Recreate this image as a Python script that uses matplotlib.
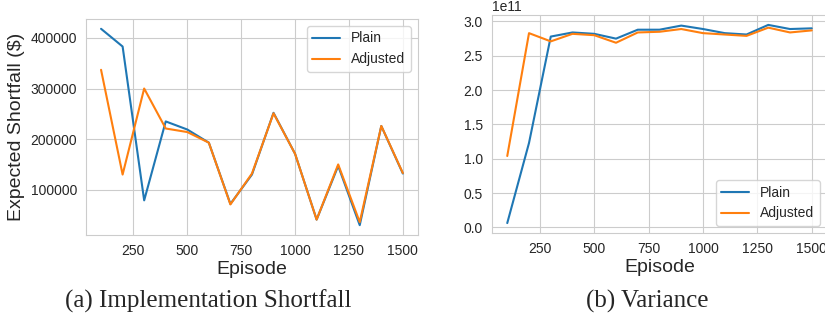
import matplotlib
matplotlib.use('Agg')
import matplotlib.pyplot as plt
import seaborn as sns

# Episodes and the two metrics for each strategy.
episodes = [100, 200, 300, 400, 500, 600, 700, 800, 900, 1000, 1100, 1200, 1300, 1400, 1500]

shortfall_plain = [418000, 383000, 79000, 235000, 219000, 193000, 72000, 130000,
                   252000, 171000, 41000, 147000, 30000, 226000, 132000]
shortfall_adjusted = [337000, 130000, 300000, 221000, 214000, 193000, 71000, 132000,
                      251000, 171000, 41000, 150000, 36000, 226000, 133000]

variance_plain = [0.063e11, 1.23e11, 2.78e11, 2.84e11, 2.82e11, 2.75e11, 2.88e11, 2.88e11,
                  2.94e11, 2.89e11, 2.83e11, 2.81e11, 2.95e11, 2.89e11, 2.90e11]
variance_adjusted = [1.04e11, 2.83e11, 2.71e11, 2.82e11, 2.80e11, 2.69e11, 2.84e11, 2.85e11,
                     2.89e11, 2.83e11, 2.81e11, 2.79e11, 2.91e11, 2.84e11, 2.87e11]

sns.set_style('whitegrid')
plt.rcParams['font.family'] = ['Liberation Sans', 'DejaVu Sans']

fig = plt.figure(figsize=(8.25, 3.17), dpi=100)
ax1 = fig.add_axes([0.1042, 0.2587, 0.4024, 0.6814])
ax2 = fig.add_axes([0.5964, 0.265, 0.406, 0.6877])

# (a) Implementation shortfall
ax1.plot(episodes, shortfall_plain, color='tab:blue', linewidth=1.5, label='Plain')
ax1.plot(episodes, shortfall_adjusted, color='tab:orange', linewidth=1.5, label='Adjusted')
ax1.set_ylabel('Expected Shortfall ($)', fontsize=14, color='.15')
ax1.set_xlabel('Episode', fontsize=14, color='.15', labelpad=2)
ax1.legend(loc='upper right', fontsize=10)

# (b) Variance
ax2.plot(episodes, variance_plain, color='tab:blue', linewidth=1.5, label='Plain')
ax2.plot(episodes, variance_adjusted, color='tab:orange', linewidth=1.5, label='Adjusted')
ax2.set_xlabel('Episode', fontsize=14, color='.15', labelpad=2)
ax2.legend(loc='lower right', fontsize=10)

for ax in (ax1, ax2):
    ax.tick_params(labelsize=10, labelcolor='.15', pad=3)
    ax.set_xticks([250, 500, 750, 1000, 1250, 1500])
ax2.yaxis.get_offset_text().set_fontsize(10)

# Sub-figure captions
fig.text(0.253, 0.048, '(a) Implementation Shortfall', ha='center', va='center',
         fontsize=18, family='Liberation Serif')
fig.text(0.784, 0.048, '(b) Variance', ha='center', va='center',
         fontsize=18, family='Liberation Serif')

fig.savefig('out.png', dpi=100)
